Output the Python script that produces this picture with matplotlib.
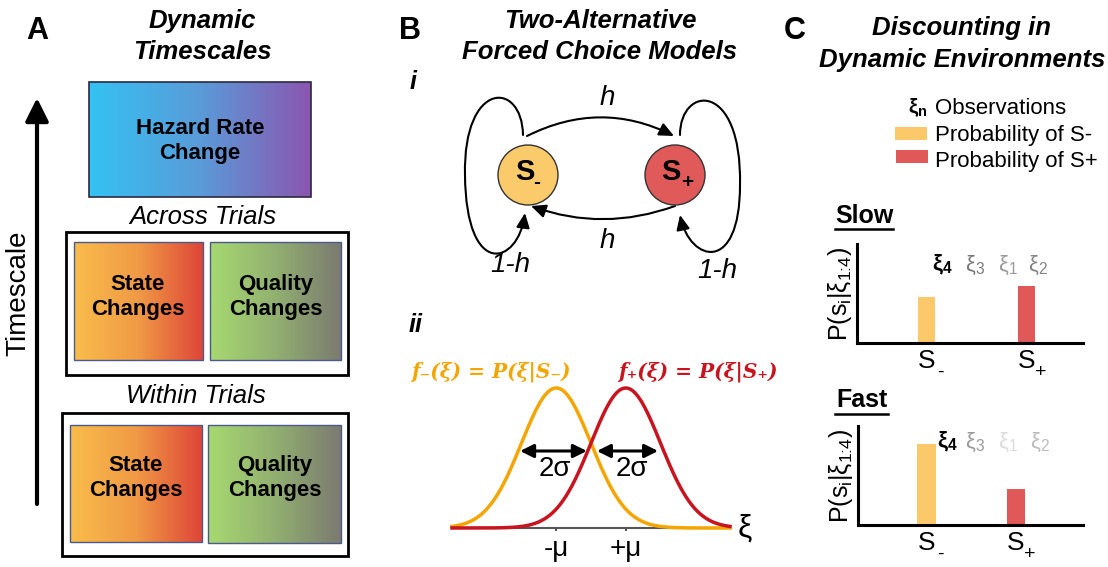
import numpy as np
import matplotlib
matplotlib.use("Agg")
import matplotlib.pyplot as plt
from matplotlib.patches import Rectangle, Circle, FancyArrowPatch
from matplotlib.path import Path
from matplotlib.colors import LinearSegmentedColormap

plt.rcParams['font.family'] = ['Liberation Sans', 'DejaVu Sans']
plt.rcParams['mathtext.fontset'] = 'custom'
plt.rcParams['mathtext.rm'] = 'Liberation Sans'
plt.rcParams['mathtext.it'] = 'Liberation Sans:italic'
plt.rcParams['mathtext.bf'] = 'Liberation Sans:bold'

# ---------------- data ----------------
states = ['S', 'S']
state_subs = ['-', '+']
slow_probs = [0.46, 0.58]
fast_probs = [0.82, 0.36]
obs_labels = [r'$\mathbf{\xi_4}$', r'$\mathregular{\xi_3}$', r'$\mathregular{\xi_1}$', r'$\mathregular{\xi_2}$']
slow_obs_colors = ['#000000', '#7a7a7a', '#9a9a9a', '#858585']
fast_obs_colors = ['#000000', '#9a9a9a', '#dcdcdc', '#bdbdbd']
mu = 1.0
sigma = 1.0
gauss_ticks = [-mu, mu]
gauss_ticklabels = ['-μ', '+μ']

ORANGE_BAR = '#FBC86A'
RED_BAR = '#E05858'
ORANGE_LINE = '#F5A500'
RED_LINE = '#C8141E'

W, H = 1108, 567
fig = plt.figure(figsize=(W / 100, H / 100), dpi=100)
ax0 = fig.add_axes([0, 0, 1, 1])
ax0.set_xlim(0, W)
ax0.set_ylim(H, 0)
ax0.axis('off')


def grad_box(x0, y0, x1, y1, colors, edge, lw=1.0):
    cmap = LinearSegmentedColormap.from_list('g', colors)
    grad = np.linspace(0, 1, 256)[None, :]
    ax0.imshow(grad, cmap=cmap, extent=(x0, x1, y1, y0), aspect='auto',
               interpolation='bilinear', zorder=1)
    ax0.add_patch(Rectangle((x0, y0), x1 - x0, y1 - y0, fill=False, ec=edge, lw=lw, zorder=2))


def title(x, y1, y2, l1, l2):
    for yy, tt in ((y1, l1), (y2, l2)):
        ax0.text(x, yy, tt, fontsize=18.5, fontweight='bold', style='italic',
                 ha='center', va='center')


# ---------------- Panel A ----------------
ax0.text(37, 31, 'A', fontsize=22, fontweight='bold', ha='center', va='center')
title(202, 21, 52, 'Dynamic', 'Timescales')
hz = ['#33C2F3', '#5A9BD8', '#8B56B0']
st = ['#F9BD4B', '#F09A45', '#DE4538']
ql = ['#A7D970', '#92B070', '#7B7A70']
grad_box(89, 82, 311, 197, hz, '#2a2a40', 1.2)
ax0.text(200, 141, 'Hazard Rate\nChange', fontsize=16, fontweight='bold', ha='center', va='center')
ax0.text(203, 217, 'Across Trials', fontsize=18.5, style='italic', ha='center', va='center')
ax0.add_patch(Rectangle((66, 232), 282, 143, fill=False, ec='black', lw=2, zorder=2))
grad_box(74, 242, 203, 360, st, '#4a5a8a')
grad_box(210, 242, 341, 360, ql, '#4a5a8a')
ax0.text(138, 297, 'State\nChanges', fontsize=16, fontweight='bold', ha='center', va='center')
ax0.text(276, 297, 'Quality\nChanges', fontsize=16, fontweight='bold', ha='center', va='center')
ax0.text(196, 396, 'Within Trials', fontsize=18.5, style='italic', ha='center', va='center')
ax0.add_patch(Rectangle((62, 413), 286, 143, fill=False, ec='black', lw=2, zorder=2))
grad_box(70, 425, 202, 542, st, '#4a5a8a')
grad_box(208, 425, 341, 543, ql, '#4a5a8a')
ax0.text(136, 478, 'State\nChanges', fontsize=16, fontweight='bold', ha='center', va='center')
ax0.text(275, 478, 'Quality\nChanges', fontsize=16, fontweight='bold', ha='center', va='center')
ax0.add_patch(FancyArrowPatch((37, 504), (37, 98), arrowstyle='-|>,head_length=1.0,head_width=0.5',
                              mutation_scale=14, lw=3, color='black', shrinkA=0, shrinkB=0))
ax0.text(18, 293, 'Timescale', fontsize=20, rotation=90, ha='center', va='center')

# ---------------- Panel B ----------------
ax0.text(410, 31, 'B', fontsize=22, fontweight='bold', ha='center', va='center')
title(600, 21, 52, 'Two-Alternative', 'Forced Choice Models')
ax0.text(413, 82, 'i', fontsize=18, fontweight='bold', style='italic', ha='center', va='center')
ax0.add_patch(Circle((528, 175), 30, fc='#FBCA6A', ec='#333333', lw=1, zorder=3))
ax0.add_patch(Circle((675, 175), 30, fc='#E05A5A', ec='#333333', lw=1, zorder=3))
ax0.text(525, 172, 'S', fontsize=21, fontweight='bold', ha='center', va='center', zorder=4)
ax0.text(537, 183, '-', fontsize=15, fontweight='bold', ha='center', va='center', zorder=4)
ax0.text(671, 172, 'S', fontsize=21, fontweight='bold', ha='center', va='center', zorder=4)
ax0.text(687, 182, '+', fontsize=15, fontweight='bold', ha='center', va='center', zorder=4)
astyle = '-|>,head_length=1.1,head_width=0.5'
ax0.add_patch(FancyArrowPatch((527, 136), (674, 136), connectionstyle='arc3,rad=-0.25',
                              arrowstyle=astyle, mutation_scale=8, lw=1.5, color='black',
                              shrinkA=0, shrinkB=0))
ax0.add_patch(FancyArrowPatch((675, 206), (531, 206), connectionstyle='arc3,rad=-0.18',
                              arrowstyle=astyle, mutation_scale=8, lw=1.5, color='black',
                              shrinkA=0, shrinkB=0))
C4 = Path.CURVE4
left_loop = Path([(523, 135), (522, 80), (463, 80), (465, 175), (466, 280), (518, 265), (525, 213)],
                 [Path.MOVETO, C4, C4, C4, C4, C4, C4])
right_loop = Path([(680, 135), (680, 85), (742, 80), (740, 185), (740, 275), (690, 262), (680, 215)],
                  [Path.MOVETO, C4, C4, C4, C4, C4, C4])
for p in (left_loop, right_loop):
    ax0.add_patch(FancyArrowPatch(path=p, arrowstyle=astyle, mutation_scale=8, lw=1.5, color='black'))
ax0.text(607, 98, 'h', fontsize=20, style='italic', ha='center', va='center')
ax0.text(607, 241, 'h', fontsize=20, style='italic', ha='center', va='center')
ax0.text(510, 265, '1-h', fontsize=20, style='italic', ha='center', va='center')
ax0.text(717, 271, '1-h', fontsize=20, style='italic', ha='center', va='center')

ax0.text(416, 325, 'ii', fontsize=18, fontweight='bold', style='italic', ha='center', va='center')
eqfam = ['DejaVu Serif', 'DejaVu Sans']
ax0.text(491, 372, 'f₋(ξ) = P(ξ|S₋)', fontsize=14.5, fontweight='bold', style='italic',
         family=eqfam, color=ORANGE_LINE, ha='center', va='center')
ax0.text(698, 372, 'f₊(ξ) = P(ξ|S₊)', fontsize=14.5, fontweight='bold', style='italic',
         family=eqfam, color=RED_LINE, ha='center', va='center')

axg = fig.add_axes([452 / W, (H - 528) / H, 278 / W, 140 / H])
xg = np.linspace(-4, 4, 400)
axg.plot(xg, np.exp(-(xg + mu) ** 2 / (2 * sigma ** 2)), color=ORANGE_LINE, lw=2.5, clip_on=False)
axg.plot(xg, np.exp(-(xg - mu) ** 2 / (2 * sigma ** 2)), color=RED_LINE, lw=2.5, clip_on=False)
axg.set_xlim(-4, 4)
axg.set_ylim(0, 1)
axg.patch.set_alpha(0)
for s in ('top', 'right', 'left'):
    axg.spines[s].set_visible(False)
axg.spines['bottom'].set_color('#555555')
axg.spines['bottom'].set_linewidth(1.5)
axg.spines['bottom'].set_zorder(0)
axg.set_yticks([])
axg.set_xticks(gauss_ticks)
axg.set_xticklabels(gauss_ticklabels, fontsize=20)
axg.tick_params(axis='x', length=2, width=1.5, color='#555555', pad=4)
arr2 = '<|-|>,head_length=0.8,head_width=0.4'
axg.annotate('', xy=(-0.12, 0.55), xytext=(-2.04, 0.55),
             arrowprops=dict(arrowstyle=arr2, lw=2.2, color='black', mutation_scale=10, shrinkA=0, shrinkB=0))
axg.annotate('', xy=(1.93, 0.55), xytext=(0.17, 0.55),
             arrowprops=dict(arrowstyle=arr2, lw=2.2, color='black', mutation_scale=10, shrinkA=0, shrinkB=0))
axg.text(-1.04, 0.42, '2σ', fontsize=20, ha='center', va='center')
axg.text(1.18, 0.42, '2σ', fontsize=20, ha='center', va='center')
ax0.text(745, 529, 'ξ', fontsize=23, ha='center', va='center')

# ---------------- Panel C ----------------
ax0.text(795, 31, 'C', fontsize=22, fontweight='bold', ha='center', va='center')
title(962, 28, 60, 'Discounting in', 'Dynamic Environments')
ax0.text(918, 108, r'$\mathbf{\xi_n}$', fontsize=15, ha='center', va='center')
ax0.text(935, 108, 'Observations', fontsize=16, ha='left', va='center')
ax0.add_patch(Rectangle((895, 127), 32, 13, fc=ORANGE_BAR, ec='none'))
ax0.text(935, 135, 'Probability of S-', fontsize=16, ha='left', va='center')
ax0.add_patch(Rectangle((896, 150), 32, 13, fc=RED_BAR, ec='none'))
ax0.text(935, 162, 'Probability of S+', fontsize=16, ha='left', va='center')

panels = [
    ('Slow', (864, 216), (835, 893, 229), [857, 343, 226, 99], slow_probs, (-0.695, 1.565), 0.17,
     (265, [942, 975, 1008, 1038]), slow_obs_colors),
    ('Fast', (862, 400), (835, 888, 414), [858, 525, 225, 99], fast_probs, (-0.765, 1.749), 0.21,
     (442, [947, 975, 1008, 1040]), fast_obs_colors),
]
for name, tpos, ul, box, probs, xl, bw, obs_pos, obs_cols in panels:
    ax0.text(tpos[0], tpos[1], name, fontsize=18, fontweight='bold', ha='center', va='center')
    ax0.plot([ul[0], ul[1]], [ul[2], ul[2]], color='black', lw=1.8)
    left, bottom, wd, ht = box
    ax = fig.add_axes([left / W, (H - bottom) / H, wd / W, ht / H])
    ax.bar(range(len(probs)), probs, width=bw, color=[ORANGE_BAR, RED_BAR])
    ax.set_xlim(*xl)
    ax.set_ylim(0, 1)
    ax.patch.set_alpha(0)
    for s in ('top', 'right'):
        ax.spines[s].set_visible(False)
    for s in ('left', 'bottom'):
        ax.spines[s].set_linewidth(2.2)
    ax.set_yticks([])
    ax.set_xticks(range(len(states)))
    ax.set_xticklabels(states, fontsize=19)
    ax.tick_params(axis='x', length=0, pad=4)
    for i, sub in enumerate(state_subs):
        ax.annotate(sub, xy=(i, 0), xycoords=('data', 'axes fraction'), xytext=(10, -21),
                    textcoords='offset points', fontsize=14, ha='center', va='center',
                    annotation_clip=False)
    ax.set_ylabel(r'$\mathregular{P(s_i|\xi_{\text{1:4}})}$', fontsize=18, labelpad=2)
    oy, oxs = obs_pos
    for lab, ox, col in zip(obs_labels, oxs, obs_cols):
        ax0.text(ox, oy, lab, fontsize=16, color=col, ha='center', va='center')

fig.savefig('out.png', dpi=100)
